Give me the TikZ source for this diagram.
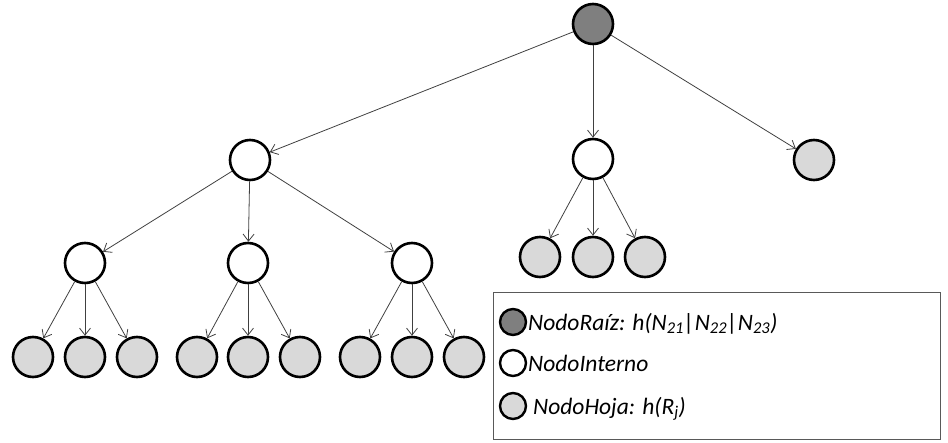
\documentclass[tikz,border=0pt]{standalone}
\usepackage{fontspec}
\setmainfont{Carlito}
\usetikzlibrary{arrows.meta}
\definecolor{rootgray}{HTML}{7F7F7F}
\definecolor{leafgray}{HTML}{D9D9D9}
\definecolor{edgegray}{HTML}{404040}
\definecolor{framegray}{HTML}{595959}
\tikzset{
  treenode/.style={circle, draw=black, line width=2.6pt, minimum size=40pt, inner sep=0pt},
  rootnode/.style={treenode, fill=rootgray},
  innernode/.style={treenode, fill=white},
  leafnode/.style={treenode, fill=leafgray},
  keynode/.style={circle, draw=black, line width=2.4pt, minimum size=26pt, inner sep=0pt},
  keytext/.style={anchor=base west, inner sep=0pt, font=\fontsize{23.5}{28}\selectfont\itshape},
  edge/.style={draw=edgegray, line width=0.8pt, -{Straight Barb[length=7pt, width=11pt, line width=0.8pt]}},
}
\begin{document}
\begin{tikzpicture}[x=1pt, y=-1pt]
  \useasboundingbox (0,0) rectangle (948,442);

  % root and first level
  \node[rootnode]  (r)  at (593,24)  {};
  \node[innernode] (a)  at (250,160) {};
  \node[innernode] (b)  at (593,159) {};
  \node[leafnode]  (c)  at (814,160) {};

  % second level below the left inner node
  \node[innernode] (a1) at (85,263)  {};
  \node[innernode] (a2) at (248,263) {};
  \node[innernode] (a3) at (412,263) {};

  % leaves under the middle inner node
  \node[leafnode] (b1) at (540,257) {};
  \node[leafnode] (b2) at (593,257) {};
  \node[leafnode] (b3) at (645,257) {};

  % bottom row of leaves
  \node[leafnode] (a11) at (33,357)  {};
  \node[leafnode] (a12) at (85,357)  {};
  \node[leafnode] (a13) at (137,357) {};
  \node[leafnode] (a21) at (197,357) {};
  \node[leafnode] (a22) at (248,357) {};
  \node[leafnode] (a23) at (300,357) {};
  \node[leafnode] (a31) at (360,357) {};
  \node[leafnode] (a32) at (412,357) {};
  \node[leafnode] (a33) at (464,357) {};

  % connectors
  \foreach \s/\t in {r/a, r/b, r/c,
                     a/a1, a/a2, a/a3,
                     b/b1, b/b2, b/b3,
                     a1/a11, a1/a12, a1/a13,
                     a2/a21, a2/a22, a2/a23,
                     a3/a31, a3/a32, a3/a33}
    \draw[edge] (\s) -- (\t);

  % key
  \node[draw=framegray, line width=1pt, minimum width=447pt, minimum height=147pt,
        inner sep=0pt, anchor=north west] (key) at (493,292) {};
  \node[keynode, fill=rootgray]  (k1) at (513,322) {};
  \node[keynode, fill=white]     (k2) at (513,363) {};
  \node[keynode, fill=leafgray]  (k3) at (513,406) {};
  \node[keytext] (t1) at (528,330) {NodoRaíz: h(N\textsubscript{21}|N\textsubscript{22}|N\textsubscript{23})};
  \node[keytext] (t2) at (528,371) {NodoInterno};
  \node[keytext] (t3) at (533,414) {NodoHoja: h(R\textsubscript{j})};
\end{tikzpicture}
\end{document}
